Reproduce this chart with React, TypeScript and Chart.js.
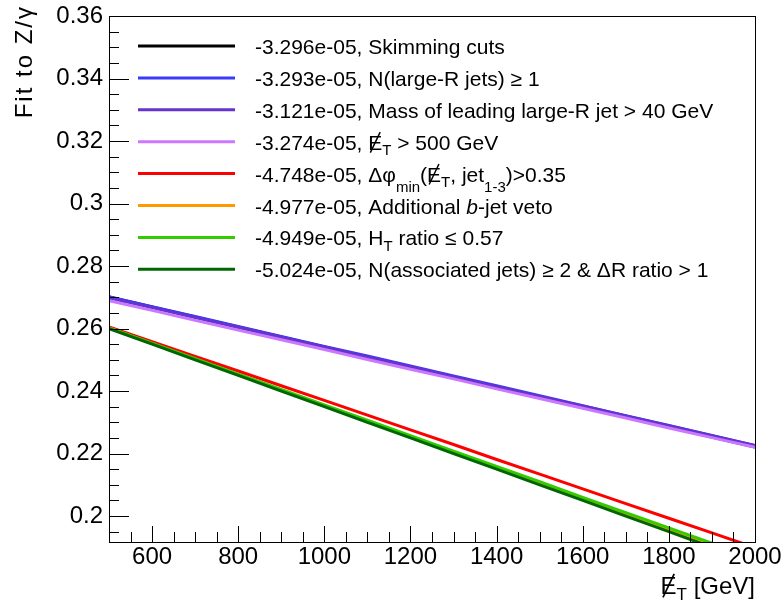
import React, { useEffect, useRef } from "react";
import { Chart, registerables } from "chart.js";

Chart.register(...registerables);

// ---------- data ----------
const xValues = [500, 600, 700, 800, 900, 1000, 1100, 1200, 1300, 1400, 1500, 1600, 1700, 1800, 1900, 2000];

const skimmingCuts = [0.2701, 0.2669, 0.2637, 0.2605, 0.2573, 0.2541, 0.2509, 0.2477, 0.2445, 0.2413, 0.2381, 0.2349, 0.2317, 0.2285, 0.2253, 0.2221];
const nLargeRJets = [0.2702, 0.267, 0.2639, 0.2607, 0.2575, 0.2543, 0.2512, 0.248, 0.2448, 0.2417, 0.2385, 0.2353, 0.2321, 0.229, 0.2258, 0.2226];
const massLeadingJet = [0.2698, 0.2667, 0.2635, 0.2604, 0.2572, 0.2541, 0.2509, 0.2478, 0.2446, 0.2415, 0.2383, 0.2352, 0.232, 0.2289, 0.2257, 0.2226];
const metCut = [0.2689, 0.2658, 0.2626, 0.2595, 0.2564, 0.2533, 0.2501, 0.247, 0.2439, 0.2407, 0.2376, 0.2345, 0.2314, 0.2282, 0.2251, 0.222];
const dPhiMin = [0.2605, 0.2558, 0.2511, 0.2464, 0.2417, 0.237, 0.2323, 0.2276, 0.2229, 0.2181, 0.2134, 0.2087, 0.204, 0.1993, 0.1946, 0.1899];
const bJetVeto = [0.2602, 0.2552, 0.2503, 0.2453, 0.2403, 0.2354, 0.2304, 0.2254, 0.2204, 0.2155, 0.2105, 0.2055, 0.2006, 0.1956, 0.1906, 0.1857];
const htRatio = [0.2602, 0.2553, 0.2504, 0.2454, 0.2405, 0.2356, 0.2307, 0.2257, 0.2208, 0.2159, 0.211, 0.206, 0.2011, 0.1962, 0.1913, 0.1864];
const nAssocJets = [0.26, 0.255, 0.25, 0.245, 0.24, 0.235, 0.23, 0.225, 0.22, 0.215, 0.21, 0.205, 0.2, 0.195, 0.19, 0.185];

const seriesValues = [skimmingCuts, nLargeRJets, massLeadingJet, metCut, dPhiMin, bJetVeto, htRatio, nAssocJets];

const seriesLabels = [
  "-3.296e-05, Skimming cuts",
  "-3.293e-05, N(large-R jets) \u2265 1",
  "-3.121e-05, Mass of leading large-R jet > 40 GeV",
  "-3.274e-05, #slash{E}_{T} > 500 GeV",
  "-4.748e-05, \u0394\u03c6_{min}(#slash{E}_{T}, jet_{1-3})>0.35",
  "-4.977e-05, Additional #it{b}-jet veto",
  "-4.949e-05, H_{T} ratio \u2264 0.57",
  "-5.024e-05, N(associated jets) \u2265 2 & \u0394R ratio > 1",
];

const seriesColors = ["#000000", "#3a3aff", "#6633cc", "#cc77ff", "#ff0000", "#ff9900", "#33cc00", "#006600"];

const xTickValues = [600, 800, 1000, 1200, 1400, 1600, 1800, 2000];
const yTickValues = [0.2, 0.22, 0.24, 0.26, 0.28, 0.3, 0.32, 0.34, 0.36];

const xTitle = "#slash{E}_{T} [GeV]";
const yTitle = "Fit to Z/\u03b3";

const X_MIN = 500;
const X_MAX = 2000;
const Y_MIN = 0.1917;
const Y_MAX = 0.36;

// ---------- rich text helpers ----------
const FONT = '"Liberation Sans", Arial, Helvetica, sans-serif';

type Seg = { t: string; sub?: boolean; it?: boolean; slash?: boolean };

function parseRich(s: string): Seg[] {
  const out: Seg[] = [];
  let buf = "";
  let i = 0;
  const flush = () => {
    if (buf) {
      out.push({ t: buf });
      buf = "";
    }
  };
  while (i < s.length) {
    if (s.startsWith("_{", i)) {
      flush();
      const j = s.indexOf("}", i);
      out.push({ t: s.slice(i + 2, j), sub: true });
      i = j + 1;
    } else if (s.startsWith("#slash{", i)) {
      flush();
      const j = s.indexOf("}", i);
      out.push({ t: s.slice(i + 7, j), slash: true });
      i = j + 1;
    } else if (s.startsWith("#it{", i)) {
      flush();
      const j = s.indexOf("}", i);
      out.push({ t: s.slice(i + 4, j), it: true });
      i = j + 1;
    } else {
      buf += s[i];
      i++;
    }
  }
  flush();
  return out;
}

function segFont(seg: Seg, size: number) {
  const sz = seg.sub ? Math.round(size * 0.72) : size;
  return `${seg.it ? "italic " : ""}${sz}px ${FONT}`;
}

function drawRich(
  ctx: CanvasRenderingContext2D,
  s: string,
  x: number,
  y: number,
  size: number,
  align: "left" | "right",
  spacing = 0
) {
  const segs = parseRich(s);
  ctx.save();
  (ctx as any).letterSpacing = `${spacing}px`;
  ctx.textAlign = "left";
  ctx.textBaseline = "alphabetic";
  const widths = segs.map((seg) => {
    ctx.font = segFont(seg, size);
    return ctx.measureText(seg.t).width;
  });
  const total = widths.reduce((a, b) => a + b, 0);
  let cx = align === "right" ? x - total : x;
  segs.forEach((seg, k) => {
    ctx.font = segFont(seg, size);
    let dy = 0;
    if (seg.sub) {
      const prev = k > 0 ? segs[k - 1].t : "";
      const lastWord = prev.split(/[\s(]/).pop() || "";
      dy = /[gjpqy\u03c6\u03b3]/.test(lastWord) ? size * 0.5 : size * 0.25;
    }
    ctx.fillText(seg.t, cx, y + dy);
    if (seg.slash) {
      const w = widths[k];
      ctx.beginPath();
      ctx.lineWidth = Math.max(1, size * 0.07);
      ctx.moveTo(cx + w * 0.15, y + size * 0.14);
      ctx.lineTo(cx + w * 0.85, y - size * 0.84);
      ctx.strokeStyle = ctx.fillStyle as string;
      ctx.stroke();
    }
    cx += widths[k];
  });
  ctx.restore();
}

// ---------- decoration plugin (frame, ticks, labels, legend) ----------
const decorPlugin = {
  id: "rootDecor",
  afterDraw(chart: any) {
    const ctx: CanvasRenderingContext2D = chart.ctx;
    const { left, right, top, bottom } = chart.chartArea;
    const xs = chart.scales.x;
    const ys = chart.scales.y;
    ctx.save();
    ctx.fillStyle = "#000";
    ctx.strokeStyle = "#000";

    // frame
    ctx.lineWidth = 1;
    ctx.strokeRect(Math.round(left) + 0.5, Math.round(top) + 0.5, Math.round(right - left), Math.round(bottom - top));

    // y ticks
    ctx.beginPath();
    for (let v = 0.195; v < Y_MAX + 1e-9; v += 0.005) {
      const p = Math.round(ys.getPixelForValue(v)) + 0.5;
      if (p < top || p > bottom) continue;
      const major = yTickValues.some((t) => Math.abs(t - v) < 1e-6);
      ctx.moveTo(left, p);
      ctx.lineTo(left + (major ? 20 : 10), p);
    }
    // x ticks
    for (let v = 550; v <= X_MAX; v += 50) {
      const p = Math.round(xs.getPixelForValue(v)) + 0.5;
      if (p < left || p > right) continue;
      const major = xTickValues.includes(v);
      ctx.moveTo(p, bottom);
      ctx.lineTo(p, bottom - (major ? 16 : 10));
    }
    ctx.stroke();

    // tick labels
    ctx.font = `24px ${FONT}`;
    ctx.textAlign = "right";
    ctx.textBaseline = "middle";
    yTickValues.forEach((v) => {
      ctx.fillText(String(v), left - 6, ys.getPixelForValue(v));
    });
    ctx.textAlign = "center";
    ctx.textBaseline = "alphabetic";
    xTickValues.forEach((v) => {
      ctx.fillText(String(v), xs.getPixelForValue(v), 564);
    });

    // axis titles
    drawRich(ctx, xTitle, right, 594, 24, "right");
    ctx.save();
    ctx.translate(32, top - 11);
    ctx.rotate(-Math.PI / 2);
    drawRich(ctx, yTitle, 0, 0, 24, "right", 2);
    ctx.restore();

    // legend
    seriesLabels.forEach((lab, i) => {
      const y = 46 + i * 31.9;
      ctx.beginPath();
      ctx.lineWidth = 3;
      ctx.strokeStyle = seriesColors[i];
      ctx.moveTo(138, y);
      ctx.lineTo(235, y);
      ctx.stroke();
      ctx.fillStyle = "#000";
      drawRich(ctx, lab, 255, y + 8, 21, "left");
    });
    ctx.restore();
  },
};

export default function App() {
  const canvasRef = useRef<HTMLCanvasElement | null>(null);

  useEffect(() => {
    const canvas = canvasRef.current;
    if (!canvas) return;
    const chart = new Chart(canvas, {
      type: "line",
      data: {
        datasets: seriesValues.map((vals, i) => ({
          label: seriesLabels[i],
          data: xValues.map((x, j) => ({ x, y: vals[j] })),
          borderColor: seriesColors[i],
          backgroundColor: seriesColors[i],
          borderWidth: 3,
          pointRadius: 0,
          fill: false,
          tension: 0,
          order: -i,
        })),
      },
      options: {
        responsive: false,
        maintainAspectRatio: false,
        animation: false,
        events: [],
        layout: { padding: { left: 109, right: 29, top: 16, bottom: 59 } },
        scales: {
          x: { type: "linear", min: X_MIN, max: X_MAX, display: false },
          y: { type: "linear", min: Y_MIN, max: Y_MAX, display: false },
        },
        plugins: {
          legend: { display: false },
          tooltip: { enabled: false },
        },
      },
      plugins: [decorPlugin],
    } as any);
    return () => chart.destroy();
  }, []);

  return (
    <div style={{ position: "absolute", left: 0, top: 0, width: 784, height: 601, background: "#fff" }}>
      <canvas ref={canvasRef} width={784} height={601} style={{ display: "block" }} />
    </div>
  );
}
